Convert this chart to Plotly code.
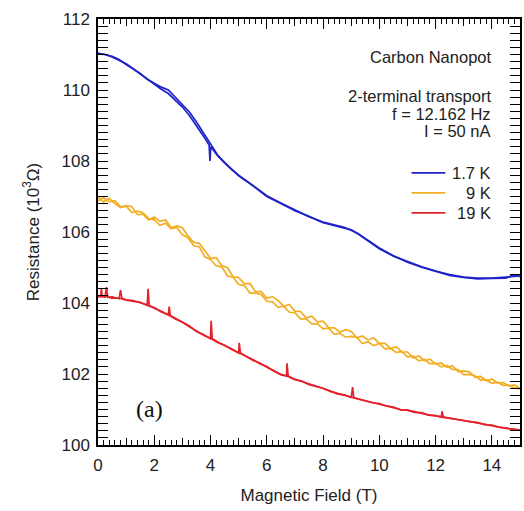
import plotly.graph_objects as go

# ---------------- data ----------------
field_blue_a = [0, 0.25, 0.5, 0.75, 1.0, 1.25, 1.5, 1.75, 2.0, 2.25, 2.5, 2.75, 3.0, 3.25, 3.5, 3.75,
                3.95, 3.98, 4.01, 4.25, 4.5, 4.75, 5.0, 5.5, 6.0, 6.5, 7.0, 7.5, 8.0, 8.25, 8.5, 8.75,
                9.0, 9.25, 9.5, 9.75, 10.0, 10.5, 11.0, 11.5, 12.0, 12.5, 13.0, 13.5, 14.0, 14.5, 15.0]
res_blue_a = [111.04, 111.0, 110.93, 110.84, 110.74, 110.6, 110.45, 110.3, 110.15, 110.02, 109.9, 109.72,
              109.52, 109.28, 109.0, 108.7, 108.45, 108.0, 108.4, 108.15, 107.95, 107.76, 107.6, 107.3,
              107.02, 106.82, 106.62, 106.43, 106.28, 106.22, 106.18, 106.13, 106.05, 105.94, 105.8,
              105.66, 105.53, 105.32, 105.16, 105.02, 104.9, 104.8, 104.73, 104.7, 104.7, 104.72, 104.76]

field_blue_b = [0, 0.25, 0.5, 0.75, 1.0, 1.25, 1.5, 1.75, 2.0, 2.25, 2.5, 2.75, 3.0, 3.25, 3.5, 3.75,
                4.0, 4.25, 4.5, 4.75, 5.0, 5.5, 6.0, 6.5, 7.0, 7.5, 8.0, 8.25, 8.5, 8.75, 9.0, 9.25, 9.5,
                9.75, 10.0, 10.5, 11.0, 11.5, 12.0, 12.5, 13.0, 13.5, 14.0, 14.5, 14.8, 15.0]
res_blue_b = [111.02, 111.0, 110.95, 110.86, 110.72, 110.6, 110.47, 110.3, 110.18, 110.08, 110.0, 109.8,
              109.6, 109.38, 109.1, 108.78, 108.47, 108.17, 107.96, 107.77, 107.58, 107.31,
              107.0, 106.8, 106.6, 106.44, 106.26, 106.21, 106.16, 106.11, 106.06, 105.95, 105.82,
              105.68, 105.55, 105.33, 105.15, 105.01, 104.89, 104.78, 104.72, 104.68, 104.69, 104.7,
              104.8, 104.74]

field_yellow = [0.0, 0.2, 0.4, 0.6, 0.8, 1.0, 1.2, 1.4, 1.6, 1.8, 2.0, 2.2, 2.4, 2.6, 2.8,
                3.0, 3.2, 3.4, 3.6, 3.8, 4.0, 4.2, 4.4, 4.6, 4.8, 5.0, 5.2, 5.4, 5.6, 5.8,
                6.0, 6.2, 6.4, 6.6, 6.8, 7.0, 7.2, 7.4, 7.6, 7.8, 8.0, 8.2, 8.4, 8.6, 8.8,
                9.0, 9.2, 9.4, 9.6, 9.8, 10.0, 10.2, 10.4, 10.6, 10.8, 11.0, 11.2, 11.4, 11.6, 11.8,
                12.0, 12.2, 12.4, 12.6, 12.8, 13.0, 13.2, 13.4, 13.6, 13.8, 14.0, 14.2, 14.4, 14.6, 14.8,
                15.0]
res_yellow_a = [106.98, 106.85, 106.95, 106.80, 106.69, 106.74, 106.72, 106.49, 106.50, 106.34,
                106.42, 106.30, 106.34, 106.12, 106.17, 106.12, 105.89, 105.71, 105.68, 105.48,
                105.26, 105.28, 105.05, 105.00, 104.74, 104.72, 104.54, 104.55, 104.32, 104.32,
                104.13, 104.18, 104.07, 103.91, 103.96, 103.77, 103.76, 103.58, 103.63, 103.47,
                103.49, 103.30, 103.30, 103.18, 103.25, 103.20, 103.02, 103.07, 102.96, 103.02,
                102.86, 102.86, 102.72, 102.77, 102.62, 102.62, 102.45, 102.51, 102.38, 102.42,
                102.28, 102.31, 102.19, 102.23, 102.07, 102.09, 102.06, 101.91, 101.93, 101.81,
                101.86, 101.75, 101.76, 101.66, 101.69, 101.60]
res_yellow_b = [106.88, 106.97, 106.85, 106.88, 106.71, 106.73, 106.55, 106.59, 106.54, 106.38,
                106.34, 106.19, 106.25, 106.09, 106.13, 105.92, 105.84, 105.61, 105.58, 105.30,
                105.22, 105.05, 105.02, 104.76, 104.73, 104.52, 104.49, 104.28, 104.28, 104.24,
                104.05, 104.03, 103.88, 103.91, 103.74, 103.73, 103.55, 103.55, 103.41, 103.42,
                103.27, 103.29, 103.12, 103.15, 103.04, 103.06, 103.03, 102.86, 102.91, 102.80,
                102.86, 102.71, 102.72, 102.61, 102.63, 102.48, 102.50, 102.37, 102.41, 102.29,
                102.30, 102.20, 102.24, 102.13, 102.12, 101.98, 101.99, 101.95, 101.83, 101.84,
                101.74, 101.77, 101.68, 101.69, 101.60, 101.59]

field_red_a = [0, 0.1, 0.12, 0.15, 0.25, 0.3, 0.35, 0.5, 0.75, 0.8, 0.85, 1.0, 1.25, 1.5, 1.75, 1.78,
               1.82, 2.0, 2.25, 2.5, 2.53, 2.57, 2.75, 3.0, 3.25, 3.5, 3.75, 4.0, 4.02, 4.06, 4.25,
               4.5, 4.75, 5.0, 5.02, 5.06, 5.25, 5.5, 5.75, 6.0, 6.25, 6.5, 6.7, 6.72, 6.76, 7.0,
               7.25, 7.5, 7.75, 8.0, 8.25, 8.5, 8.75, 9.0, 9.05, 9.09, 9.25, 9.5, 9.75, 10.0, 10.25,
               10.5, 10.75, 11.0, 11.25, 11.5, 11.75, 12.0, 12.2, 12.23, 12.27, 12.5, 12.75, 13.0,
               13.25, 13.5, 13.75, 14.0, 14.25, 14.5, 14.75, 15.0]
res_red_a = [104.2, 104.19, 104.42, 104.18, 104.17, 104.45, 104.16, 104.17, 104.12, 104.36, 104.13,
             104.09, 104.07, 104.0, 103.95, 104.4, 103.93, 103.85, 103.77, 103.66, 103.9, 103.65,
             103.57, 103.45, 103.35, 103.2, 103.11, 102.99, 103.5, 103.0, 102.9, 102.8, 102.71,
             102.59, 102.88, 102.6, 102.5, 102.41, 102.29, 102.21, 102.08, 101.99, 101.95, 102.3,
             101.94, 101.85, 101.79, 101.71, 101.67, 101.59, 101.53, 101.44, 101.41, 101.34,
             101.63, 101.33, 101.3, 101.24, 101.2, 101.16, 101.11, 101.06, 101.0, 100.98, 100.93,
             100.9, 100.85, 100.82, 100.79, 100.95, 100.79, 100.75, 100.73, 100.69, 100.66,
             100.62, 100.58, 100.55, 100.52, 100.47, 100.45, 100.42]

field_red_b = [0.0, 0.25, 0.5, 0.75, 1.0, 1.25, 1.5, 1.75, 2.0, 2.25, 2.5, 2.75, 3.0, 3.25, 3.5, 3.75,
               4.0, 4.25, 4.5, 4.75, 5.0, 5.25, 5.5, 5.75, 6.0, 6.25, 6.5, 6.75, 7.0, 7.25, 7.5, 7.75,
               8.0, 8.25, 8.5, 8.75, 9.0, 9.25, 9.5, 9.75, 10.0, 10.25, 10.5, 10.75, 11.0, 11.25, 11.5,
               11.75, 12.0, 12.25, 12.5, 12.75, 13.0, 13.25, 13.5, 13.75, 14.0, 14.25, 14.5, 14.75, 15.0]
res_red_b = [104.17, 104.19, 104.14, 104.14, 104.08, 104.05, 104.02, 103.93, 103.87, 103.75, 103.67,
             103.55, 103.46, 103.33, 103.22, 103.09, 103.01, 102.89, 102.81, 102.69, 102.6, 102.51,
             102.39, 102.31, 102.19, 102.1, 101.98, 101.93, 101.84, 101.8, 101.7, 101.66, 101.6,
             101.51, 101.46, 101.39, 101.35, 101.29, 101.25, 101.19, 101.17, 101.1, 101.07, 100.99,
             100.98, 100.92, 100.91, 100.84, 100.83, 100.78, 100.76, 100.72, 100.7, 100.65, 100.63,
             100.57, 100.56, 100.5, 100.48, 100.44, 100.43]

legend_labels = ["1.7 K", "9 K", "19 K"]
colors = ["#1F22C8", "#F2AE22", "#E3222B"]

x_ticks = [0, 2, 4, 6, 8, 10, 12, 14]
y_ticks = [100, 102, 104, 106, 108, 110, 112]

FONT = "Liberation Sans, Arial, sans-serif"
TXT = "#222"

# ---------------- figure ----------------
fig = go.Figure()
series = [
    (field_blue_a, res_blue_a, field_blue_b, res_blue_b),
    (field_yellow, res_yellow_a, field_yellow, res_yellow_b),
    (field_red_a, res_red_a, field_red_b, res_red_b),
]
for (xa, ya, xb, yb), lab, col in zip(series, legend_labels, colors):
    assert len(xa) == len(ya) and len(xb) == len(yb)
    fig.add_trace(go.Scatter(x=xb, y=yb, mode="lines", line=dict(color=col, width=1.7),
                             showlegend=False, hoverinfo="skip"))
    fig.add_trace(go.Scatter(x=xa, y=ya, mode="lines", line=dict(color=col, width=1.7),
                             name=lab, showlegend=False))

# invisible trace for the medium-length x ticks (odd integers)
fig.add_trace(go.Scatter(x=[0, 15], y=[100, 100], xaxis="x2", mode="lines",
                         line=dict(width=0), showlegend=False, hoverinfo="skip"))

axis_common = dict(showline=True, linecolor="black", linewidth=1.5, mirror="allticks",
                   ticks="inside", tickcolor="black", tickwidth=1.3, ticklen=10,
                   showgrid=False, zeroline=False,
                   tickfont=dict(family=FONT, size=17, color=TXT))

fig.update_layout(
    width=524, height=511,
    margin=dict(l=98, r=2, t=19, b=66),
    paper_bgcolor="white", plot_bgcolor="white",
    xaxis=dict(range=[0, 15], tickvals=x_ticks, ticklabelstandoff=4,
               minor=dict(dtick=0.2, tick0=0, ticks="inside", ticklen=5, tickcolor="black", tickwidth=1),
               title=dict(text="Magnetic Field (T)", font=dict(family=FONT, size=17, color=TXT),
                          standoff=15),
               **axis_common),
    xaxis2=dict(range=[0, 15], overlaying="x", side="bottom", tick0=1, dtick=2,
                ticks="inside", ticklen=7, tickwidth=1.1, tickcolor="black", showticklabels=False,
                showline=False, showgrid=False, zeroline=False, mirror="allticks", anchor="y"),
    yaxis=dict(range=[100, 112], tickvals=y_ticks, ticklabelstandoff=3,
               minor=dict(dtick=0.2, tick0=100, ticks="inside", ticklen=5, tickcolor="black", tickwidth=1),
               title=dict(text="Resistance (10<sup>3</sup>\u03a9)", font=dict(family=FONT, size=17, color=TXT),
                          standoff=18),
               **axis_common),
    showlegend=False,
)

# text block in the top-right corner
ann_font = dict(family=FONT, size=16.5, color=TXT)
notes = [("Carbon Nanopot", 0.910), ("2-terminal transport", 0.819), ("f = 12.162 Hz", 0.776),
         ("I = 50 nA", 0.736)]
for txt, yy in notes:
    fig.add_annotation(text=txt, xref="paper", yref="paper", x=0.936, y=yy, xanchor="right",
                       yanchor="middle", showarrow=False, font=ann_font)

# legend: key line + right-aligned label
legend_rows = [0.639, 0.592, 0.545]
for lab, col, yy in zip(legend_labels, colors, legend_rows):
    fig.add_shape(type="line", xref="paper", yref="paper", x0=0.743, x1=0.823, y0=yy, y1=yy,
                  line=dict(color=col, width=1.7))
    fig.add_annotation(text=lab, xref="paper", yref="paper", x=0.936, y=yy, xanchor="right",
                       yanchor="middle", showarrow=False, font=ann_font)

fig.add_annotation(text="(a)", xref="paper", yref="paper", x=0.123, y=0.084, xanchor="center",
                   yanchor="middle", showarrow=False,
                   font=dict(family="Liberation Serif, Times New Roman, serif", size=24, color="#111"))

fig.write_html("out.html")
